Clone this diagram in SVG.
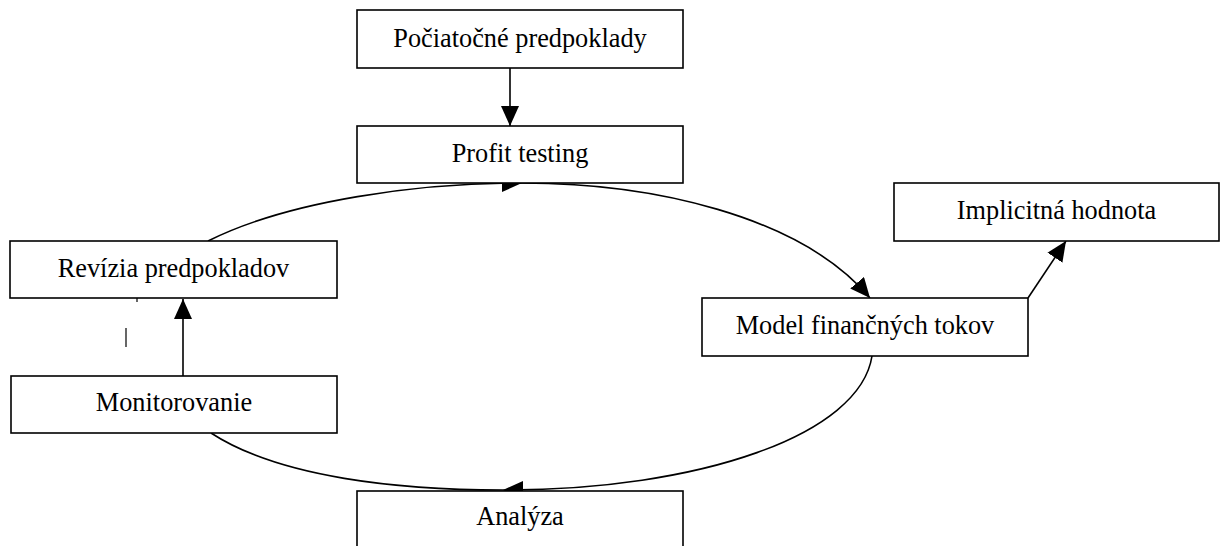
<svg xmlns="http://www.w3.org/2000/svg" width="1220" height="546" viewBox="0 0 1220 546">
<style>
.box{fill:#fff;stroke:#000;stroke-width:1.6}
.lbl{font-family:"Liberation Serif","Times New Roman",serif;font-size:26.3px;fill:#000;text-anchor:middle}
.con{fill:none;stroke:#000;stroke-width:1.6}
.mark{stroke:#000;stroke-width:1.2}
</style>
<defs>
<marker id="ah" markerUnits="userSpaceOnUse" markerWidth="22" markerHeight="20" refX="20" refY="9" orient="auto" viewBox="0 0 22 20">
<path d="M0,0 L20,9 L0,18 z" fill="#000"/>
</marker>
</defs>
<rect x="0" y="0" width="1220" height="546" fill="#fff"/>
<g id="connectors">
<line class="con" x1="510" y1="68" x2="510" y2="126" marker-end="url(#ah)"/>
<path class="con" d="M208,241 C290,200 420,183 522,183" marker-end="url(#ah)"/>
<path class="con" d="M522,183 C650,183 800,215 870,298" marker-end="url(#ah)"/>
<line class="con" x1="1028" y1="298" x2="1066" y2="241" marker-end="url(#ah)"/>
<path class="con" d="M872,356 C860,435 700,490 503,490" marker-end="url(#ah)"/>
<path class="con" d="M211,433 C280,478 400,490 503,490"/>
<line class="con" x1="183" y1="376" x2="183" y2="299" marker-end="url(#ah)"/>
</g>
<g id="n-pociatocne">
<rect class="box" x="357" y="10" width="326" height="58"/>
<text class="lbl" x="520" y="47">Počiatočné predpoklady</text>
</g>
<g id="n-profit">
<rect class="box" x="357" y="126" width="326" height="57"/>
<text class="lbl" x="520" y="162">Profit testing</text>
</g>
<g id="n-implicitna">
<rect class="box" x="894" y="183" width="325" height="58"/>
<text class="lbl" x="1056.5" y="219">Implicitná hodnota</text>
</g>
<g id="n-revizia">
<rect class="box" x="10" y="241" width="327" height="57"/>
<text class="lbl" x="173.5" y="277">Revízia predpokladov</text>
</g>
<g id="n-model">
<rect class="box" x="702" y="298" width="326" height="58"/>
<text class="lbl" x="865" y="334">Model finančných tokov</text>
</g>
<g id="n-monitorovanie">
<rect class="box" x="11" y="376" width="326" height="57"/>
<text class="lbl" x="174" y="411">Monitorovanie</text>
</g>
<g id="n-analyza">
<rect class="box" x="357" y="491" width="326" height="70"/>
<text class="lbl" x="520" y="525">Analýza</text>
</g>
<line class="mark" x1="126" y1="328" x2="126" y2="347"/>
<line class="mark" x1="137" y1="298" x2="137" y2="302"/>
</svg>
